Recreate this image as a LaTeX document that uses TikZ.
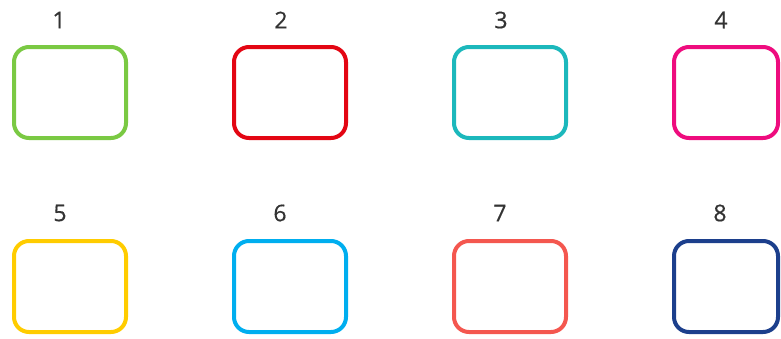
\documentclass[tikz,border=0pt]{standalone}
\usepackage{fontspec}
\setmainfont{Open Sans}
\newfontfamily\numfont{Open Sans}[FakeBold=0.6]
\definecolor{cgreen}{HTML}{7AC943}
\definecolor{cred}{HTML}{E30613}
\definecolor{cteal}{HTML}{1CB8BC}
\definecolor{cpink}{HTML}{EE0C7E}
\definecolor{cyellow}{HTML}{FFCC00}
\definecolor{cblue}{HTML}{00AEEF}
\definecolor{csalmon}{HTML}{F4574F}
\definecolor{cnavy}{HTML}{1C3F8C}
\definecolor{ctext}{HTML}{333333}
\begin{document}
\begin{tikzpicture}[x=1pt,y=-1pt,
  slot/.style={draw=#1, line width=4pt, rounded corners=15pt, rectangle,
    minimum width=112pt, minimum height=91pt, inner sep=0pt},
  num/.style={font=\numfont\fontsize{23}{25}\selectfont, text=ctext, inner sep=0pt, anchor=center}]
\useasboundingbox (0,0) rectangle (781,338);
\node[slot=cgreen] (b1) at (70,92.5) {};
\node[slot=cred] (b2) at (290,92.5) {};
\node[slot=cteal] (b3) at (510,92.5) {};
\node[slot=cpink, minimum width=104pt] (b4) at (726,92.5) {};
\node[slot=cyellow] (b5) at (70,286.5) {};
\node[slot=cblue] (b6) at (290,286.5) {};
\node[slot=csalmon] (b7) at (510,286.5) {};
\node[slot=cnavy, minimum width=104pt] (b8) at (726,286.5) {};
\node[num] (l1) at (59,20) {1};
\node[num] (l2) at (281,20) {2};
\node[num] (l3) at (501,20) {3};
\node[num] (l4) at (721,20) {4};
\node[num] (l5) at (60,213) {5};
\node[num] (l6) at (280,213) {6};
\node[num] (l7) at (500,213) {7};
\node[num] (l8) at (720,213) {8};
\end{tikzpicture}
\end{document}
